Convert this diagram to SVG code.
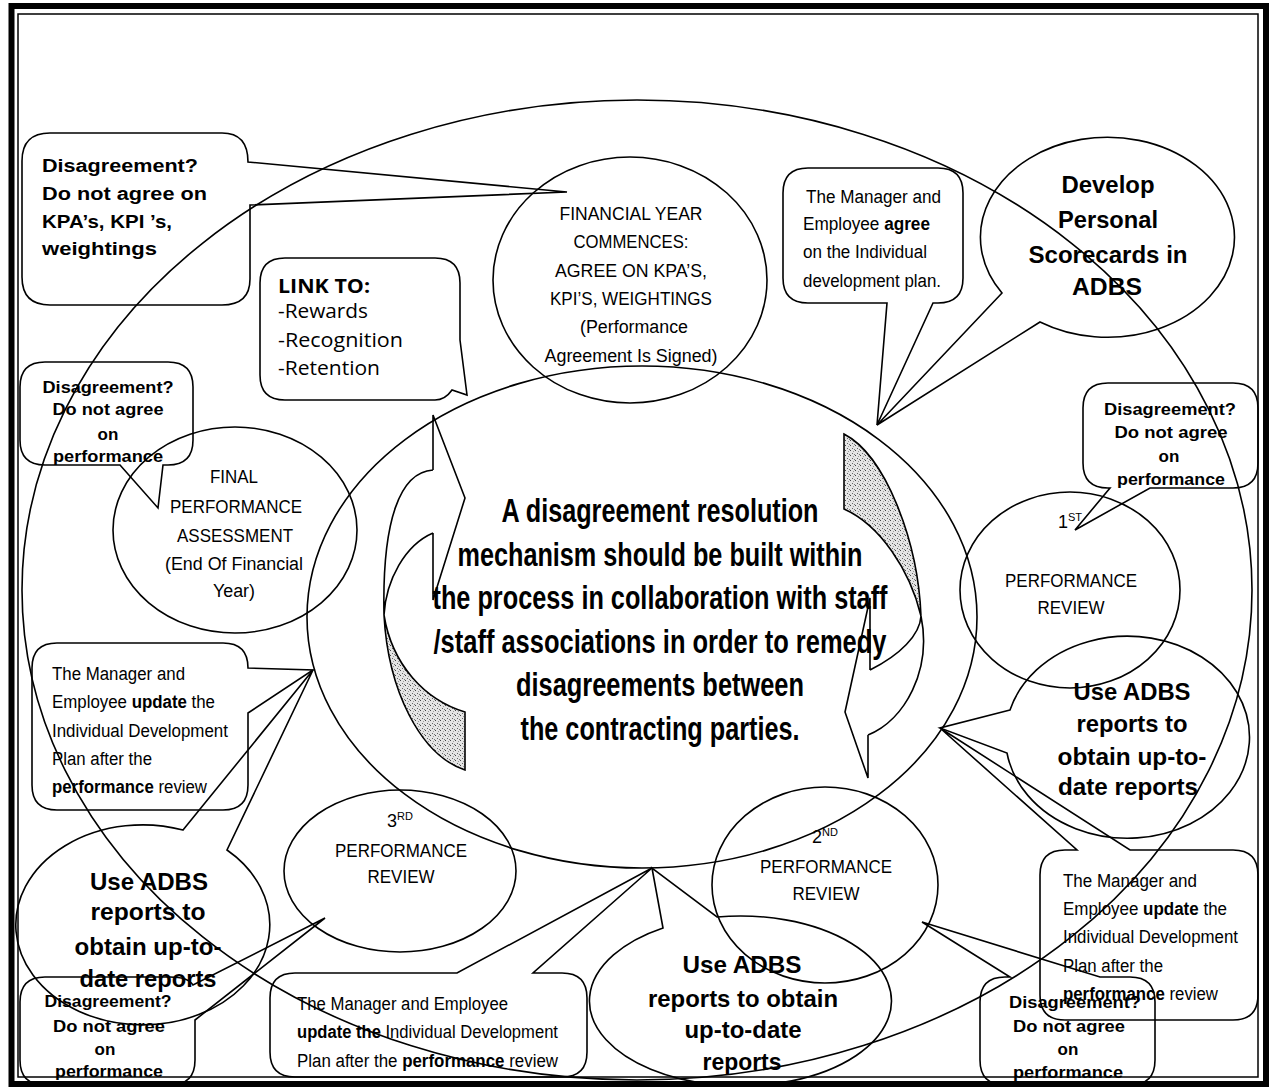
<svg xmlns="http://www.w3.org/2000/svg" width="1276" height="1088" viewBox="0 0 1276 1088">
<style>
.s{fill:none;stroke:#000;stroke-width:1.6;stroke-linejoin:miter}
.t{font-family:"Liberation Sans",Arial,sans-serif;font-size:18px;fill:#000}
.b{font-weight:bold}
.c{text-anchor:middle}
.bd{font-family:"Liberation Sans",Arial,sans-serif;font-size:17px;font-weight:bold;fill:#000;text-anchor:middle}
.ad{font-family:"Liberation Sans",Arial,sans-serif;font-size:24px;font-weight:bold;fill:#000;text-anchor:middle}
.mid{font-family:"Liberation Sans",Arial,sans-serif;font-size:33px;font-weight:bold;fill:#000;text-anchor:middle}
.lk{font-family:"Open Sans","Liberation Sans",sans-serif;font-size:20px;fill:#000}
.sup{font-size:11px}
</style>
<defs>
<pattern id="dots" width="5" height="5" patternUnits="userSpaceOnUse">
<rect width="5" height="5" fill="#e4e4e4"/>
<rect x="0" y="0" width="1" height="1" fill="#444"/>
<rect x="2" y="3" width="1" height="1" fill="#666"/>
<rect x="3" y="1" width="1" height="1" fill="#999"/>
<rect x="4" y="4" width="1" height="1" fill="#777"/>
</pattern>
</defs>
<rect width="1276" height="1088" fill="#fff"/>
<g id="frame">
<rect x="11.5" y="6" width="1254.5" height="1078" fill="none" stroke="#000" stroke-width="6"/>
<rect x="18" y="14" width="1240" height="1063" fill="none" stroke="#000" stroke-width="1.5"/>
</g>
<g id="connectors">
<ellipse class="s" cx="637" cy="590" rx="615" ry="490"/>
</g>
<g id="center">
<ellipse class="s" cx="642" cy="617" rx="335" ry="251"/>
<path d="M384,615 C388,690 420,755 465,770 V712 C425,700 392,665 384,615 Z" fill="url(#dots)" stroke="#000" stroke-width="1.6"/>
<path class="s" d="M433,470 C400,472 382,520 384,615 M433,533 C405,545 386,580 384,615 M433,533 V600 L465,498 L433,415 V470"/>
<path d="M921,616 C918,540 885,455 844,434 V509 C880,525 910,570 921,616 Z" fill="url(#dots)" stroke="#000" stroke-width="1.6"/>
<path class="s" d="M870,670 C900,655 920,635 921,616 M868,735 C905,720 932,670 921,616 M870,670 V598 L845,712 L868,778 V735"/>
<text class="mid" x="660" y="522" textLength="317" lengthAdjust="spacingAndGlyphs">A disagreement resolution</text>
<text class="mid" x="660" y="566" textLength="405" lengthAdjust="spacingAndGlyphs">mechanism should be built within</text>
<text class="mid" x="660" y="609" textLength="455" lengthAdjust="spacingAndGlyphs">the process in collaboration with staff</text>
<text class="mid" x="660" y="653" textLength="453" lengthAdjust="spacingAndGlyphs">/staff associations in order to remedy</text>
<text class="mid" x="660" y="696" textLength="288" lengthAdjust="spacingAndGlyphs">disagreements between</text>
<text class="mid" x="660" y="740" textLength="279" lengthAdjust="spacingAndGlyphs">the contracting parties.</text>
</g>
<g id="fy">
<ellipse class="s" cx="630" cy="280" rx="137" ry="123"/>
<text class="t c" x="631" y="220" textLength="143" lengthAdjust="spacingAndGlyphs">FINANCIAL YEAR</text>
<text class="t c" x="631" y="248" textLength="115" lengthAdjust="spacingAndGlyphs">COMMENCES:</text>
<text class="t c" x="631" y="277" textLength="152" lengthAdjust="spacingAndGlyphs">AGREE ON KPA’S,</text>
<text class="t c" x="631" y="305" textLength="162" lengthAdjust="spacingAndGlyphs">KPI’S, WEIGHTINGS</text>
<text class="t c" x="634" y="333" textLength="108" lengthAdjust="spacingAndGlyphs">(Performance</text>
<text class="t c" x="631" y="362" textLength="173" lengthAdjust="spacingAndGlyphs">Agreement Is Signed)</text>
</g>
<g id="kpa">
<path class="s" d="M50,133 H222 Q248,133 248,162 L567,192 L250,205 V279 Q250,305 222,305 H50 Q22,305 22,277 V161 Q22,133 50,133 Z"/>
<text class="t b" x="42" y="172" font-size="21" textLength="156" lengthAdjust="spacingAndGlyphs">Disagreement?</text>
<text class="t b" x="42" y="200" font-size="21" textLength="165" lengthAdjust="spacingAndGlyphs">Do not agree on</text>
<text class="t b" x="42" y="228" font-size="21" textLength="130" lengthAdjust="spacingAndGlyphs">KPA’s, KPI ’s,</text>
<text class="t b" x="42" y="255" font-size="21" textLength="115" lengthAdjust="spacingAndGlyphs">weightings</text>
</g>
<g id="link">
<path class="s" d="M285,258 H435 Q460,258 460,283 V340 L467,395 L452,390 Q445,400 435,400 H285 Q260,400 260,375 V283 Q260,258 285,258 Z"/>
<text class="lk b" x="278" y="293" textLength="92" lengthAdjust="spacingAndGlyphs">LINK TO:</text>
<text class="lk" x="278" y="318" textLength="90" lengthAdjust="spacingAndGlyphs">-Rewards</text>
<text class="lk" x="278" y="347" textLength="125" lengthAdjust="spacingAndGlyphs">-Recognition</text>
<text class="lk" x="278" y="375" textLength="102" lengthAdjust="spacingAndGlyphs">-Retention</text>
</g>
<g id="agree">
<path class="s" d="M808,168 H938 Q963,168 963,193 V278 Q963,303 938,303 H933 L877,425 L887,303 H808 Q783,303 783,278 V193 Q783,168 808,168 Z"/>
<text class="t" x="806" y="203" textLength="135" lengthAdjust="spacingAndGlyphs">The Manager and</text>
<text class="t" x="803" y="230" textLength="127" lengthAdjust="spacingAndGlyphs">Employee <tspan class="b">agree</tspan></text>
<text class="t" x="803" y="258" textLength="124" lengthAdjust="spacingAndGlyphs">on the Individual</text>
<text class="t" x="803" y="287" textLength="138" lengthAdjust="spacingAndGlyphs">development plan.</text>
</g>
<g id="develop">
<path class="s" d="M1002,293 L877,425 L1040,322 A127 100 0 1 0 1002,293 Z"/>
<text class="ad" x="1108" y="193" font-size="25" textLength="93" lengthAdjust="spacingAndGlyphs">Develop</text>
<text class="ad" x="1108" y="228" font-size="25" textLength="100" lengthAdjust="spacingAndGlyphs">Personal</text>
<text class="ad" x="1108" y="263" font-size="25" textLength="159" lengthAdjust="spacingAndGlyphs">Scorecards in</text>
<text class="ad" x="1107" y="295" font-size="25" textLength="70" lengthAdjust="spacingAndGlyphs">ADBS</text>
</g>
<g id="dis-tr">
<path class="s" d="M1108,383 H1233 Q1258,383 1258,408 V463 Q1258,488 1233,488 H1150 L1075,530 L1110,488 H1108 Q1083,488 1083,463 V408 Q1083,383 1108,383 Z"/>
<text class="bd" x="1170" y="415" textLength="132" lengthAdjust="spacingAndGlyphs">Disagreement?</text>
<text class="bd" x="1171" y="438" textLength="113" lengthAdjust="spacingAndGlyphs">Do not agree</text>
<text class="bd" x="1169" y="462">on</text>
<text class="bd" x="1171" y="485" textLength="108" lengthAdjust="spacingAndGlyphs">performance</text>
</g>
<g id="rev1">
<ellipse class="s" cx="1070" cy="590" rx="110" ry="98"/>
<text class="t c" x="1070" y="528">1<tspan class="sup" dy="-7">ST</tspan></text>
<text class="t c" x="1071" y="587" textLength="132" lengthAdjust="spacingAndGlyphs">PERFORMANCE</text>
<text class="t c" x="1071" y="614" textLength="67" lengthAdjust="spacingAndGlyphs">REVIEW</text>
</g>
<g id="adbs-r">
<path class="s" d="M1010,710 L940,728 L1007,753 A122 101 0 1 0 1010,710 Z"/>
<text class="ad" x="1132" y="700" textLength="117" lengthAdjust="spacingAndGlyphs">Use ADBS</text>
<text class="ad" x="1132" y="732" textLength="111" lengthAdjust="spacingAndGlyphs">reports to</text>
<text class="ad" x="1132" y="765" textLength="149" lengthAdjust="spacingAndGlyphs">obtain up-to-</text>
<text class="ad" x="1128" y="795" textLength="140" lengthAdjust="spacingAndGlyphs">date reports</text>
</g>
<g id="update-br">
<path class="s" d="M1065,850 H1077 L940,728 L1130,850 H1233 Q1258,850 1258,875 V995 Q1258,1020 1233,1020 H1065 Q1040,1020 1040,995 V875 Q1040,850 1065,850 Z"/>
<text class="t" x="1063" y="887" textLength="134" lengthAdjust="spacingAndGlyphs">The Manager and</text>
<text class="t" x="1063" y="915" textLength="164" lengthAdjust="spacingAndGlyphs">Employee <tspan class="b">update</tspan> the</text>
<text class="t" x="1063" y="943" textLength="175" lengthAdjust="spacingAndGlyphs">Individual Development</text>
<text class="t" x="1063" y="972" textLength="100" lengthAdjust="spacingAndGlyphs">Plan after the</text>
<text class="t" x="1063" y="1000" textLength="155" lengthAdjust="spacingAndGlyphs"><tspan class="b">performance</tspan> review</text>
</g>
<g id="dis-br">
<path class="s" d="M1005,977 H1010 L922,922 L1100,977 H1130 Q1155,977 1155,1002 V1060 Q1155,1085 1130,1085 H1005 Q980,1085 980,1060 V1002 Q980,977 1005,977 Z"/>
<text class="bd" x="1075" y="1008" textLength="132" lengthAdjust="spacingAndGlyphs">Disagreement?</text>
<text class="bd" x="1069" y="1032" textLength="112" lengthAdjust="spacingAndGlyphs">Do not agree</text>
<text class="bd" x="1068" y="1055">on</text>
<text class="bd" x="1068" y="1078" textLength="110" lengthAdjust="spacingAndGlyphs">performance</text>
</g>
<g id="rev2">
<ellipse class="s" cx="825" cy="885" rx="113" ry="98"/>
<text class="t c" x="825" y="843">2<tspan class="sup" dy="-7">ND</tspan></text>
<text class="t c" x="826" y="873" textLength="132" lengthAdjust="spacingAndGlyphs">PERFORMANCE</text>
<text class="t c" x="826" y="900" textLength="67" lengthAdjust="spacingAndGlyphs">REVIEW</text>
</g>
<g id="adbs-b">
<path class="s" d="M663,928 L652,868 L717,917 A151 85 0 1 1 663,928 Z"/>
<text class="ad" x="742" y="973" textLength="119" lengthAdjust="spacingAndGlyphs">Use ADBS</text>
<text class="ad" x="743" y="1007" textLength="190" lengthAdjust="spacingAndGlyphs">reports to obtain</text>
<text class="ad" x="743" y="1038" textLength="117" lengthAdjust="spacingAndGlyphs">up-to-date</text>
<text class="ad" x="742" y="1070" textLength="79" lengthAdjust="spacingAndGlyphs">reports</text>
</g>
<g id="update-b">
<path class="s" d="M295,973 H457 L652,868 L533,973 H562 Q587,973 587,998 V1052 Q587,1077 562,1077 H295 Q270,1077 270,1052 V998 Q270,973 295,973 Z"/>
<text class="t" x="297" y="1010" textLength="211" lengthAdjust="spacingAndGlyphs">The Manager and Employee</text>
<text class="t" x="297" y="1038" textLength="261" lengthAdjust="spacingAndGlyphs"><tspan class="b">update the</tspan> Individual Development</text>
<text class="t" x="297" y="1067" textLength="261" lengthAdjust="spacingAndGlyphs">Plan after the  <tspan class="b">performance</tspan> review</text>
</g>
<g id="rev3">
<ellipse class="s" cx="400" cy="871" rx="116" ry="81"/>
<text class="t c" x="400" y="827">3<tspan class="sup" dy="-7">RD</tspan></text>
<text class="t c" x="401" y="857" textLength="132" lengthAdjust="spacingAndGlyphs">PERFORMANCE</text>
<text class="t c" x="401" y="883" textLength="67" lengthAdjust="spacingAndGlyphs">REVIEW</text>
</g>
<g id="dis-bl">
<path class="s" d="M45,977 H170 Q188,977 193,985 L325,918 L195,1020 V1060 Q195,1085 170,1085 H45 Q20,1085 20,1060 V1002 Q20,977 45,977 Z"/>
<text class="bd" x="108" y="1007" textLength="127" lengthAdjust="spacingAndGlyphs">Disagreement?</text>
<text class="bd" x="109" y="1032" textLength="112" lengthAdjust="spacingAndGlyphs">Do not agree</text>
<text class="bd" x="105" y="1055">on</text>
<text class="bd" x="109" y="1077" textLength="108" lengthAdjust="spacingAndGlyphs">performance</text>
</g>
<g id="adbs-l">
<path class="s" d="M183,830 L313,670 L227,850 A127 100 0 1 1 183,830 Z"/>
<text class="ad" x="149" y="890" textLength="118" lengthAdjust="spacingAndGlyphs">Use ADBS</text>
<text class="ad" x="148" y="920" textLength="115" lengthAdjust="spacingAndGlyphs">reports to</text>
<text class="ad" x="148" y="955" textLength="147" lengthAdjust="spacingAndGlyphs">obtain up-to-</text>
<text class="ad" x="148" y="987" textLength="137" lengthAdjust="spacingAndGlyphs">date reports</text>
</g>
<g id="update-l">
<path class="s" d="M57,643 H223 Q248,643 248,668 L313,670 L248,713 V785 Q248,810 223,810 H57 Q32,810 32,785 V668 Q32,643 57,643 Z"/>
<text class="t" x="52" y="680" textLength="133" lengthAdjust="spacingAndGlyphs">The Manager and</text>
<text class="t" x="52" y="708" textLength="163" lengthAdjust="spacingAndGlyphs">Employee <tspan class="b">update</tspan> the</text>
<text class="t" x="52" y="737" textLength="176" lengthAdjust="spacingAndGlyphs">Individual Development</text>
<text class="t" x="52" y="765" textLength="100" lengthAdjust="spacingAndGlyphs">Plan after the</text>
<text class="t" x="52" y="793" textLength="155" lengthAdjust="spacingAndGlyphs"><tspan class="b">performance</tspan> review</text>
</g>
<g id="final">
<ellipse class="s" cx="235" cy="530" rx="122" ry="103"/>
<text class="t c" x="234" y="483" textLength="48" lengthAdjust="spacingAndGlyphs">FINAL</text>
<text class="t c" x="236" y="513" textLength="132" lengthAdjust="spacingAndGlyphs">PERFORMANCE</text>
<text class="t c" x="235" y="542" textLength="116" lengthAdjust="spacingAndGlyphs">ASSESSMENT</text>
<text class="t c" x="234" y="570" textLength="138" lengthAdjust="spacingAndGlyphs">(End Of Financial</text>
<text class="t c" x="234" y="597" textLength="42" lengthAdjust="spacingAndGlyphs">Year)</text>
</g>
<g id="dis-l">
<path class="s" d="M45,362 H168 Q193,362 193,387 V440 Q193,465 168,465 H163 L158,508 L120,465 H45 Q20,465 20,440 V387 Q20,362 45,362 Z"/>
<text class="bd" x="108" y="393" textLength="131" lengthAdjust="spacingAndGlyphs">Disagreement?</text>
<text class="bd" x="108" y="415" textLength="111" lengthAdjust="spacingAndGlyphs">Do not agree</text>
<text class="bd" x="108" y="440">on</text>
<text class="bd" x="108" y="462" textLength="110" lengthAdjust="spacingAndGlyphs">performance</text>
</g>
</svg>
